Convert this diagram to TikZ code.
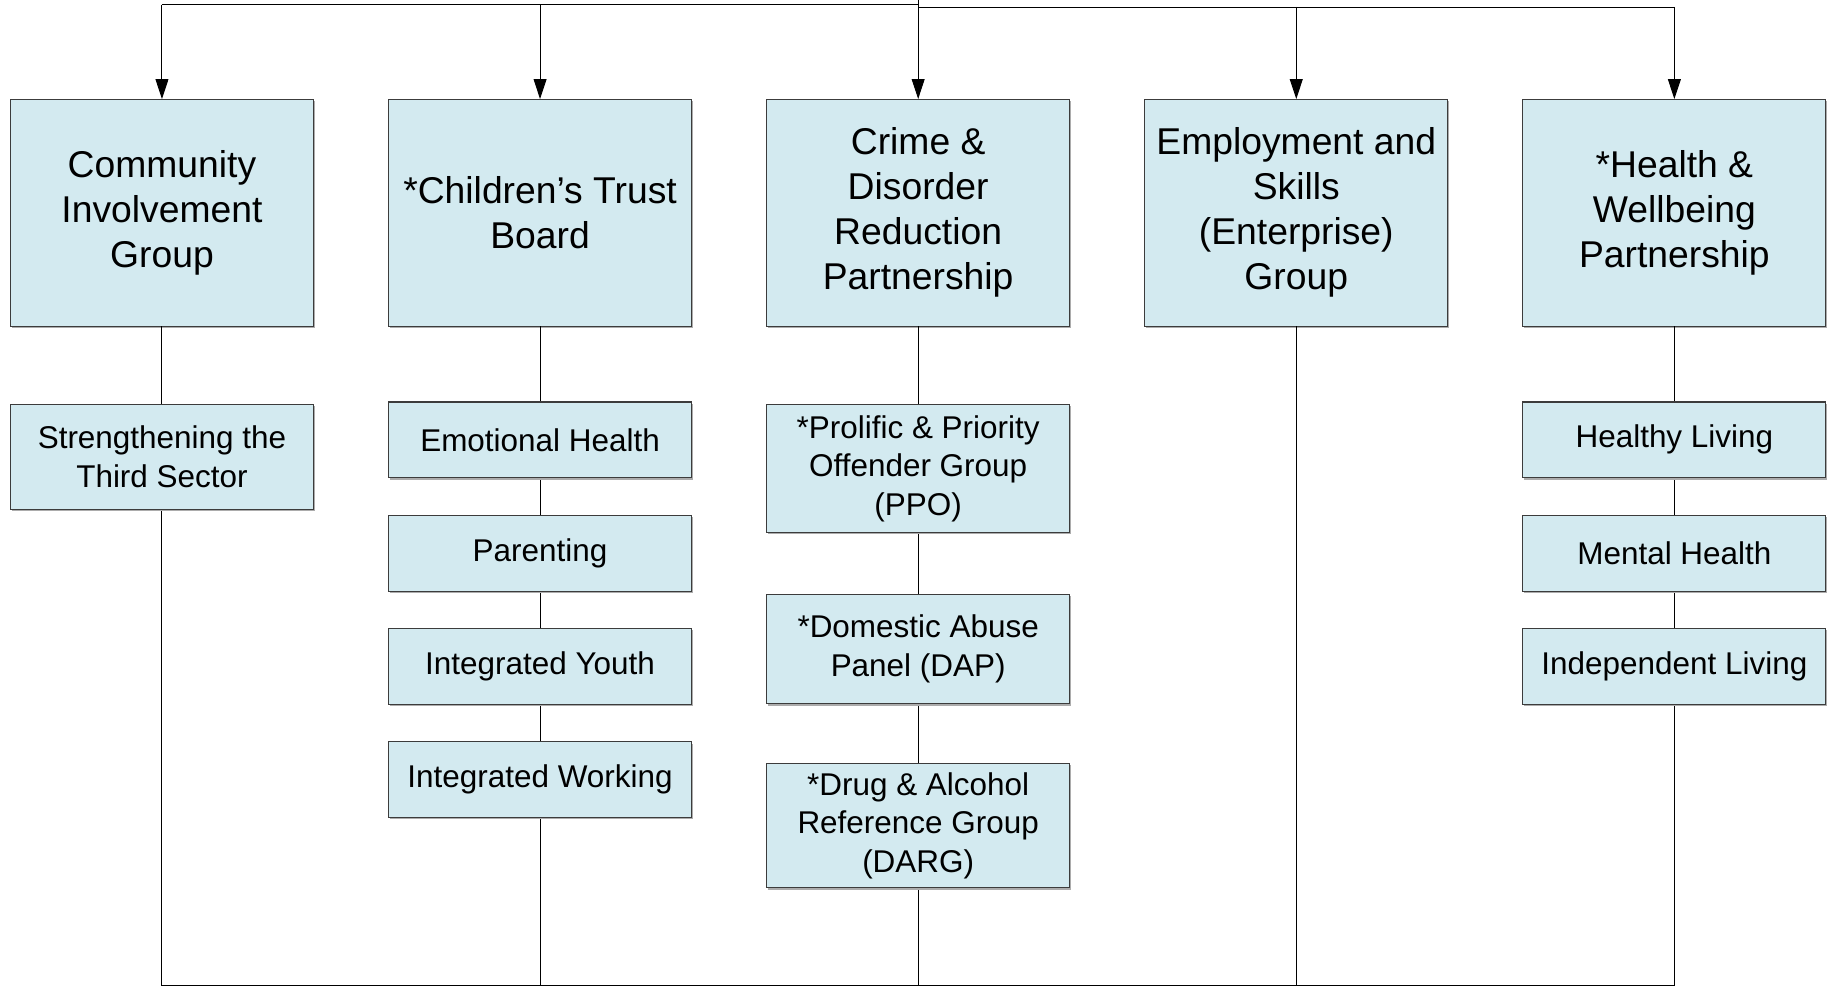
\documentclass[tikz,border=0pt]{standalone}
\usepackage{fontspec}
\setmainfont{Liberation Sans}
\usetikzlibrary{arrows.meta,shadows}
\definecolor{boxfill}{RGB}{211,234,240}
\definecolor{boxline}{RGB}{60,60,60}
\begin{document}
\begin{tikzpicture}[x=1pt,y=-1pt,
  conn/.style={draw=black,line width=0.8pt},
  arr/.style={conn,-{Triangle[length=17pt,width=11pt]}},
  basebox/.style={draw=boxline,fill=boxfill,line width=0.9pt,inner sep=0pt,outer sep=0pt,
    align=center,minimum width=260pt,
    general shadow={fill=gray!65,shadow xshift=1pt,shadow yshift=-1.6pt}},
  mainbox/.style={basebox,minimum height=195pt,font=\fontsize{32}{38.7}\selectfont},
  subbox/.style={basebox,font=\fontsize{27}{33}\selectfont}
]
\useasboundingbox (0,0) rectangle (1568,847);
% main boxes
\node[mainbox] (m1) at (139,182.5) {Community\\Involvement\\Group};
\node[mainbox] (m2) at (463.5,182.5) {*Children’s Trust\\Board};
\node[mainbox] (m3) at (788,182.5) {Crime \&\\Disorder\\Reduction\\Partnership};
\node[mainbox] (m4) at (1112.5,182.5) {Employment and\\Skills\\(Enterprise)\\Group};
\node[mainbox] (m5) at (1437,182.5) {*Health \&\\Wellbeing\\Partnership};
% top distribution
\coordinate (t) at (788,0);
\coordinate (tj) at (788,6);
\coordinate (h1) at (139,4);
\coordinate (h2) at (463.5,4);
\coordinate (h3) at (788,4);
\coordinate (h4) at (1112.5,6);
\coordinate (h5) at (1437,6);
\draw[conn] (h1) -- (h3);
\draw[conn] (t) -- (tj) -- (h5);
\draw[arr] (h1) -- (m1.north);
\draw[arr] (h2) -- (m2.north);
\draw[arr] (t) -- (m3.north);
\draw[arr] (h4) -- (m4.north);
\draw[arr] (h5) -- (m5.north);
% bottom lines
\coordinate (b1) at (139,846);
\coordinate (b2) at (463.5,846);
\coordinate (b3) at (788,846);
\coordinate (b4) at (1112.5,846);
\coordinate (b5) at (1437,846);
\draw[conn] (m1.south) -- (b1) -- (b5) -- (m5.south);
\draw[conn] (m2.south) -- (b2);
\draw[conn] (m3.south) -- (b3);
\draw[conn] (m4.south) -- (b4);
% sub boxes
\node[subbox,minimum height=90pt] (s11) at (139,392) {Strengthening the\\Third Sector};
\node[subbox,minimum height=65pt] (s21) at (463.5,377.5) {Emotional Health};
\node[subbox,minimum height=65pt] (s22) at (463.5,475) {Parenting};
\node[subbox,minimum height=65pt] (s23) at (463.5,572) {Integrated Youth};
\node[subbox,minimum height=65pt] (s24) at (463.5,669) {Integrated Working};
\node[subbox,minimum height=110pt] (s31) at (788,402) {*Prolific \& Priority\\Offender Group\\(PPO)};
\node[subbox,minimum height=94pt] (s32) at (788,557) {*Domestic Abuse\\Panel (DAP)};
\node[subbox,minimum height=107pt] (s33) at (788,708.5) {*Drug \& Alcohol\\Reference Group\\(DARG)};
\node[subbox,minimum height=65pt] (s51) at (1437,377.5) {Healthy Living};
\node[subbox,minimum height=65pt] (s52) at (1437,475) {Mental Health};
\node[subbox,minimum height=65pt] (s53) at (1437,572) {Independent Living};
\end{tikzpicture}
\end{document}
